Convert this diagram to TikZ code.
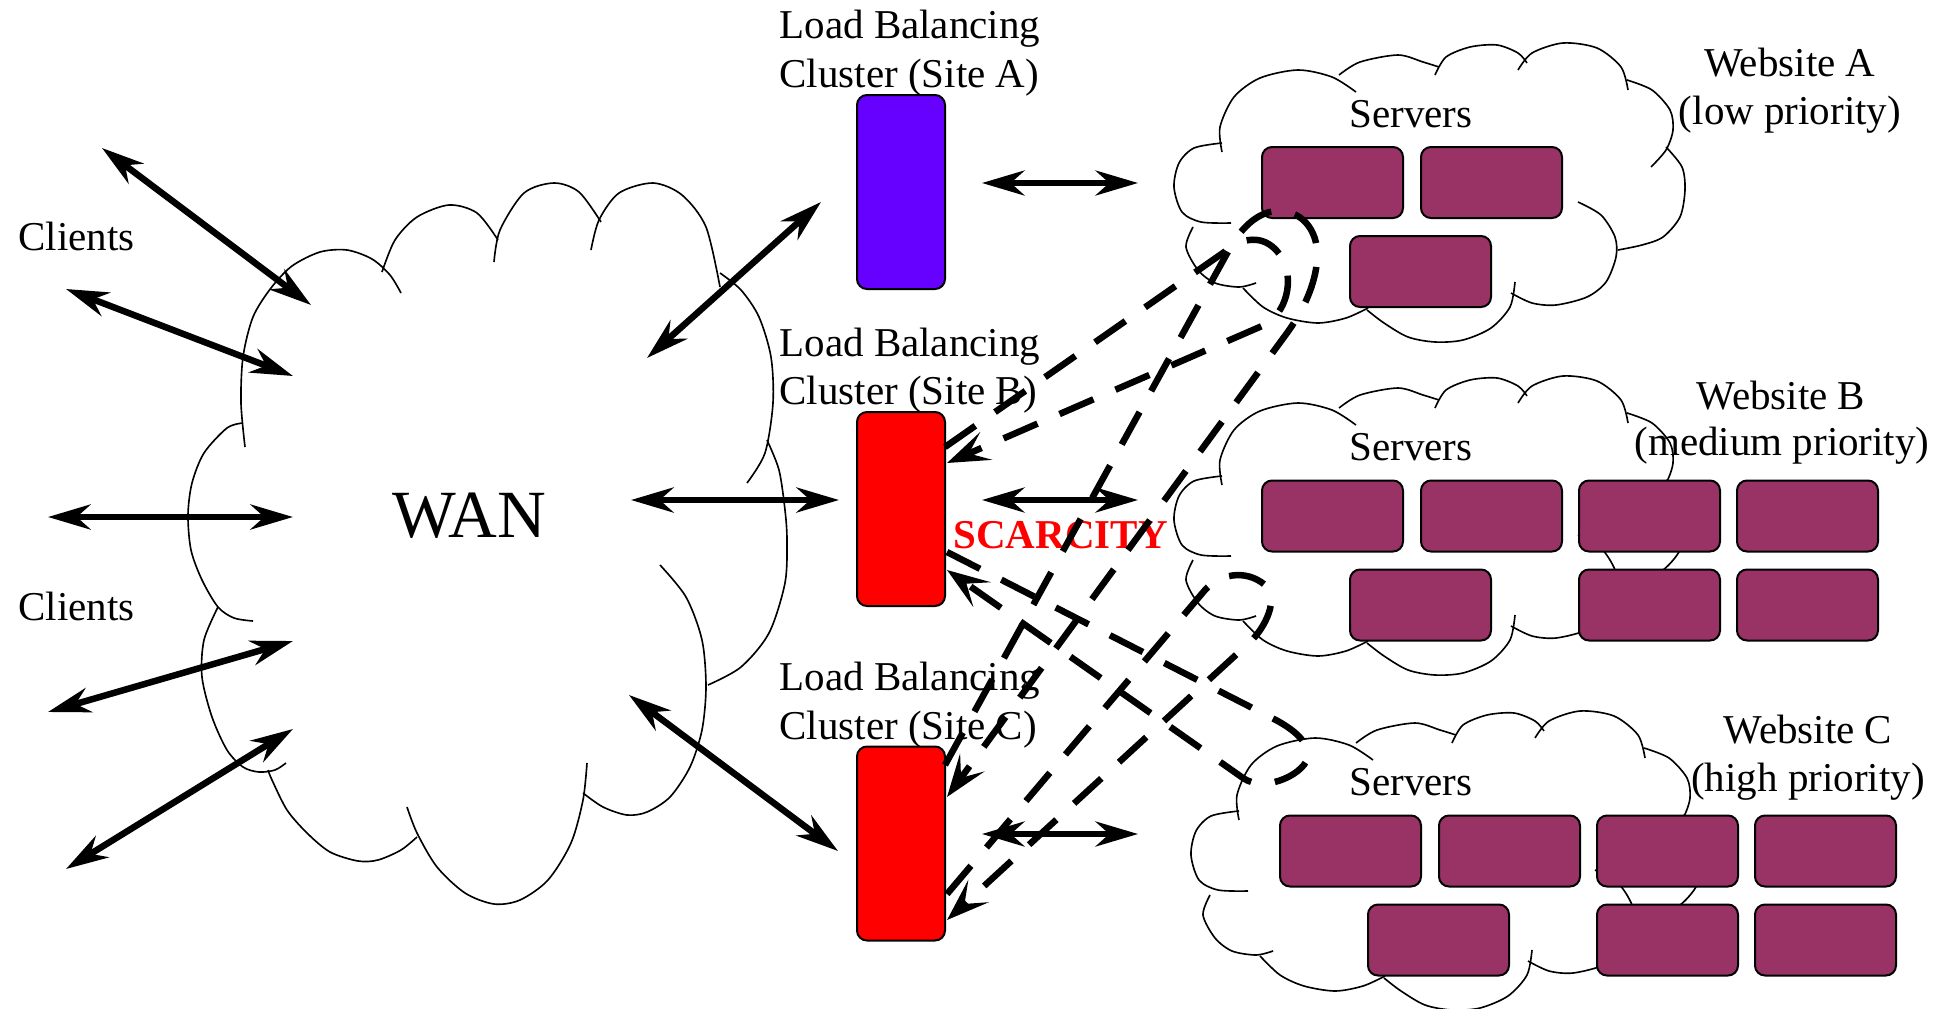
\documentclass[tikz,border=0pt]{standalone}
\usepackage{fontspec}
\setmainfont{Liberation Serif}
\usetikzlibrary{arrows.meta}

\definecolor{lbblue}{HTML}{6600FF}
\definecolor{lbred}{HTML}{FF0000}
\definecolor{srvfill}{HTML}{993366}

\newcommand\lblfont{\fontsize{16.4}{19.7}\selectfont}

% outline of one server cloud, drawn at the position of site A
\newcommand\srvcloud{%
  \draw plot[smooth] coordinates {(1222,152) (1220,127) (1234,97) (1260,78) (1298,70) (1332,77) (1356,92)};
  \draw plot[smooth] coordinates {(1339,75) (1360,62) (1398,55) (1423,62) (1439,67)};
  \draw plot[smooth] coordinates {(1435,75) (1446,57) (1470,47) (1497,45) (1518,53) (1527,63)};
  \draw plot[smooth] coordinates {(1518,70) (1532,53) (1563,43) (1597,48) (1621,67) (1628,90)};
  \draw plot[smooth] coordinates {(1627,80) (1652,90) (1670,110) (1673,130) (1666,150) (1651,167)};
  \draw plot[smooth] coordinates {(1666,147) (1682,167) (1685,190) (1680,217) (1663,237) (1642,245) (1618,250)};
  \draw plot[smooth] coordinates {(1578,202) (1601,215) (1615,237) (1616,257) (1606,282) (1587,297) (1556,305) (1532,303) (1511,293)};
  \draw plot[smooth] coordinates {(1515,282) (1510,307) (1491,328) (1463,340) (1435,342) (1408,337) (1384,323) (1367,310)};
  \draw plot[smooth] coordinates {(1368,308) (1346,318) (1318,323) (1287,318) (1263,307) (1243,288)};
  \draw plot[smooth] coordinates {(1193,227) (1186,247) (1198,270) (1215,283) (1239,287) (1256,283)};
  \draw plot[smooth] coordinates {(1231,223) (1201,222) (1182,212) (1174,187) (1179,163) (1194,148) (1222,143)};
}

\tikzset{
  bigtip/.tip={Stealth[length=17pt,width=10pt,inset=5.5pt]},
  dashtip/.tip={Stealth[length=17pt,width=12pt,inset=7.5pt]},
  cloudline/.style={line width=0.65pt},
  lbbox/.style={draw, line width=0.8pt, rounded corners=4pt, minimum width=35.2pt, minimum height=77.6pt, inner sep=0pt},
  srvbox/.style={draw, line width=0.8pt, fill=srvfill, rounded corners=4pt, minimum width=56.4pt, minimum height=28.4pt, inner sep=0pt},
  lbl/.style={font=\lblfont, inner sep=0pt},
  clientarrow/.style={line width=2.6pt, {bigtip}-{bigtip}},
  sitearrow/.style={line width=2.3pt, {bigtip}-{bigtip}},
  dashline/.style={line width=2.6pt, dash pattern=on 14.8pt off 9.6pt},
}

\begin{document}
\begin{tikzpicture}[x=0.4pt,y=-0.4pt]
\useasboundingbox (0,0) rectangle (1942,1008);

% ---------------- WAN cloud ----------------
\begin{scope}[cloudline]
  \draw plot[smooth] coordinates {(245,447) (241,403) (243,357) (253,317) (271,288) (292,266) (320,252) (347,250) (372,259) (390,275) (401,293)};
  \draw plot[smooth] coordinates {(382,272) (395,240) (417,217) (449,205) (477,213) (498,240)};
  \draw plot[smooth] coordinates {(494,262) (500,230) (524,193) (554,183) (579,192) (601,222)};
  \draw plot[smooth] coordinates {(591,250) (599,220) (619,193) (653,183) (682,195) (706,227) (720,287)};
  \draw plot[smooth] coordinates {(720,273) (741,290) (759,317) (771,357) (773,403) (765,453) (747,483)};
  \draw plot[smooth] coordinates {(767,440) (779,470) (785,510) (787,540) (785,583) (769,633) (741,667) (708,685)};
  \draw plot[smooth] coordinates {(660,565) (686,597) (702,640) (706,687) (702,730) (690,767) (670,797) (647,812) (627,815) (603,807) (583,793)};
  \draw plot[smooth] coordinates {(587,763) (583,800) (571,843) (548,880) (520,900) (494,904) (465,893) (437,867) (417,833) (407,807)};
  \draw plot[smooth] coordinates {(417,837) (401,850) (378,860) (358,861) (330,852) (307,833) (287,810) (272,780) (268,770)};
  \draw plot[smooth] coordinates {(286,763) (275,770) (259,772) (243,767) (227,750) (212,717) (202,677) (204,640) (218,607)};
  \draw plot[smooth] coordinates {(243,423) (227,428) (204,453) (192,483) (188,515) (191,550) (202,580) (218,607) (234,618) (253,621)};
\end{scope}
\node[anchor=base, inner sep=0pt, font=\fontsize{27}{32}\selectfont] (wan) at (469,537) {WAN};

% ---------------- server clouds ----------------
\begin{scope}[cloudline]
  \srvcloud
  \begin{scope}[shift={(0,333)}]\srvcloud\end{scope}
  \begin{scope}[shift={(17,668)}]\srvcloud\end{scope}
\end{scope}

% servers of website A
\node[srvbox] (sa1) at (1332.5,182.5) {};
\node[srvbox] (sa2) at (1491.5,182.5) {};
\node[srvbox] (sa3) at (1420.5,271.5) {};
% servers of website B
\node[srvbox] (sb1) at (1332.5,516) {};
\node[srvbox] (sb2) at (1491.5,516) {};
\node[srvbox] (sb3) at (1649.5,516) {};
\node[srvbox] (sb4) at (1807.5,516) {};
\node[srvbox] (sb5) at (1420.5,605) {};
\node[srvbox] (sb6) at (1649.5,605) {};
\node[srvbox] (sb7) at (1807.5,605) {};
% servers of website C
\node[srvbox] (sc1) at (1350.5,851) {};
\node[srvbox] (sc2) at (1509.5,851) {};
\node[srvbox] (sc3) at (1667.5,851) {};
\node[srvbox] (sc4) at (1825.5,851) {};
\node[srvbox] (sc5) at (1438.5,940) {};
\node[srvbox] (sc6) at (1667.5,940) {};
\node[srvbox] (sc7) at (1825.5,940) {};

\node[lbl, anchor=base] (srvA) at (1411,127) {Servers};
\node[lbl, anchor=base] (srvB) at (1411,460) {Servers};
\node[lbl, anchor=base] (srvC) at (1411,795) {Servers};

\node[lbl, anchor=base] (webA1) at (1790,76) {Website A};
\node[lbl, anchor=base] (webA2) at (1790,124) {(low priority)};
\node[lbl, anchor=base] (webB1) at (1781,409) {Website B};
\node[lbl, anchor=base] (webB2) at (1782,455) {(medium priority)};
\node[lbl, anchor=base] (webC1) at (1808,743) {Website C};
\node[lbl, anchor=base] (webC2) at (1808,791) {(high priority)};

% ---------------- load balancing clusters ----------------
\node[lbbox, fill=lbblue] (lbA) at (901,192) {};
\node[lbbox, fill=lbred] (lbB) at (901,509) {};
\node[lbbox, fill=lbred] (lbC) at (901,843.5) {};

\node[lbl, anchor=base west] (lbA1) at (779,38) {Load Balancing};
\node[lbl, anchor=base west] (lbA2) at (779,87) {Cluster (Site A)};
\node[lbl, anchor=base west] (lbB1) at (779,356) {Load Balancing};
\node[lbl, anchor=base west] (lbB2) at (779,404) {Cluster (Site B)};
\node[lbl, anchor=base west] (lbC1) at (779,690) {Load Balancing};
\node[lbl, anchor=base west] (lbC2) at (779,739) {Cluster (Site C)};

\node[anchor=base west, inner sep=0pt, text=lbred, font=\fontsize{16.4}{19.7}\selectfont\bfseries] (scarce) at (953,548) {SCARCITY};

% ---------------- clients ----------------
\node[lbl, anchor=base west] (cli1) at (18,250) {Clients};
\node[lbl, anchor=base west] (cli2) at (18,620) {Clients};

\coordinate (c1o) at (102,148); \coordinate (c1i) at (311,305);
\coordinate (c2o) at (66,289);  \coordinate (c2i) at (293,376);
\coordinate (c3o) at (48,517);  \coordinate (c3i) at (293,517);
\coordinate (c4o) at (48,712);  \coordinate (c4i) at (293,641);
\coordinate (c5o) at (66,869);  \coordinate (c5i) at (293,729);
\foreach \k in {1,...,5} \draw[clientarrow] (c\k o) -- (c\k i);

% WAN to clusters
\coordinate (wA) at (647,358); \coordinate (eA) at (821,202);
\coordinate (wB) at (631,500); \coordinate (eB) at (839,500);
\coordinate (wC) at (629,695); \coordinate (eC) at (838,851);
\draw[clientarrow] (wA) -- (eA);
\draw[clientarrow] (wB) -- (eB);
\draw[clientarrow] (wC) -- (eC);

% clusters to their own servers
\coordinate (pA) at (982,183); \coordinate (qA) at (1138,183);
\coordinate (pB) at (982,500); \coordinate (qB) at (1138,500);
\coordinate (pC) at (982,834); \coordinate (qC) at (1138,834);
\draw[sitearrow] (pA) -- (qA);
\draw[sitearrow] (pB) -- (qB);
\draw[sitearrow] (pC) -- (qC);

% ---------------- borrowed capacity: out, round the remote servers, back ----------------
% cluster B through the servers of site A
\coordinate (outB1) at (945,447);
\coordinate (hubA)  at (1230,248);
\coordinate (retB1) at (1262,326);
\coordinate (atB1)  at (947,463);
\draw[dashline, -{dashtip}] (outB1) -- (hubA)
  .. controls (1250,234) and (1270,238) .. (1282,258)
  .. controls (1294,278) and (1288,314) .. (retB1) -- (atB1);

% cluster C through the servers of site A
\coordinate (outC1) at (945,765);
\coordinate (retC1) at (1287,333);
\coordinate (atC1)  at (947,797);
\draw[dashline, -{dashtip}] (outC1) -- (hubA)
  .. controls (1239,232) and (1255,212) .. (1277,211)
  .. controls (1305,210) and (1320,235) .. (1317,262)
  .. controls (1314,290) and (1300,315) .. (retC1) -- (atC1);

% cluster B through the servers of site C
\coordinate (outB2) at (947,552);
\coordinate (hubC)  at (1272,718);
\coordinate (retB2) at (1243,778);
\coordinate (atB2)  at (947,570);
\draw[dashline, -{dashtip}] (outB2) -- (hubC)
  .. controls (1290,727) and (1308,740) .. (1308,755)
  .. controls (1308,772) and (1266,794) .. (retB2) -- (atB2);

% cluster C through the servers of site B
\coordinate (outC2) at (947,894);
\coordinate (hubB)  at (1205,590);
\coordinate (retC2) at (1250,642);
\coordinate (atC2)  at (947,920);
\draw[dashline, -{dashtip}] (outC2) -- (hubB)
  .. controls (1218,575) and (1245,568) .. (1265,585)
  .. controls (1280,598) and (1265,628) .. (retC2) -- (atC2);

\end{tikzpicture}
\end{document}
